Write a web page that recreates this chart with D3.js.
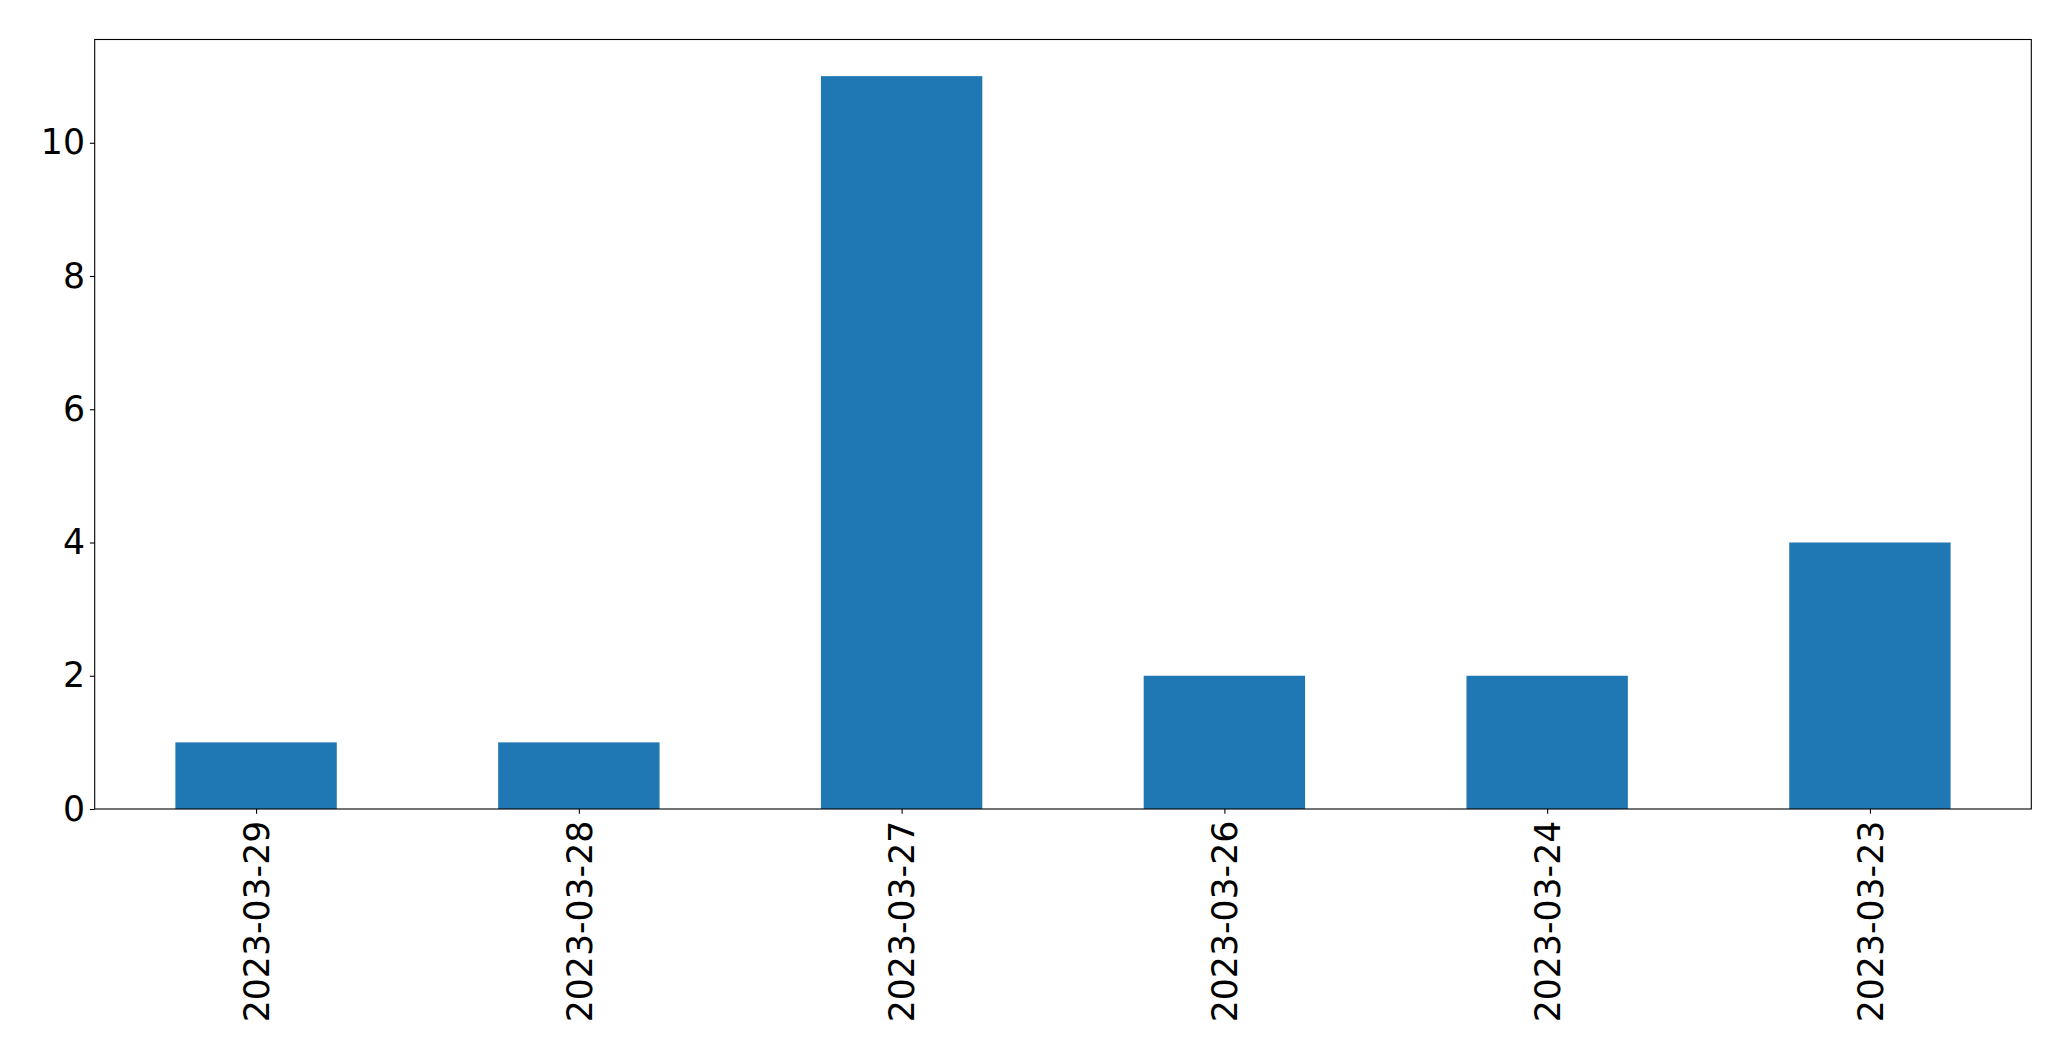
<!DOCTYPE html>
<html>
<head>
<meta charset="utf-8">
<script src="https://cdn.jsdelivr.net/npm/d3@7"></script>
<style>
  html, body { margin: 0; padding: 0; background: #fff; }
  svg { display: block; }
</style>
</head>
<body>
<script>
const categories = ["2023-03-29", "2023-03-28", "2023-03-27", "2023-03-26", "2023-03-24", "2023-03-23"];
const values = [1, 1, 11, 2, 2, 4];
const yTicks = [0, 2, 4, 6, 8, 10];

const W = 2071, H = 1061;
const mLeft = 94.7, mRight = 2031.3, mTop = 39.5, mBottom = 809;
const fontSize = 34.7;
const tickLen = 4.86;
const pad = 4.86;

const svg = d3.select("body").append("svg").attr("width", W).attr("height", H)
  .style("font-family", "'DejaVu Sans', sans-serif");

const x = d3.scaleLinear().domain([-0.5, categories.length - 0.5]).range([mLeft, mRight]);
const yMax = d3.max(values) * 1.05;
const y = d3.scaleLinear().domain([0, yMax]).range([mBottom, mTop]);

// bars
svg.append("g").selectAll("rect").data(values).join("rect")
  .attr("x", (d, i) => x(i - 0.25))
  .attr("width", (d, i) => x(i + 0.25) - x(i - 0.25))
  .attr("y", d => y(d))
  .attr("height", d => y(0) - y(d))
  .attr("fill", "#1f77b4");

// y axis
const yAxis = d3.axisLeft(y).tickValues(yTicks).tickSize(tickLen).tickPadding(pad).tickFormat(d3.format("d"));
const gy = svg.append("g").attr("transform", `translate(${mLeft},0)`).call(yAxis);
gy.select(".domain").remove();
gy.selectAll(".tick line").attr("stroke", "#000").attr("stroke-width", 1.1);
gy.selectAll(".tick text").attr("font-size", fontSize).attr("fill", "#000")
  .attr("font-family", "'DejaVu Sans', sans-serif");

// x axis
const xAxis = d3.axisBottom(x).tickValues(d3.range(categories.length)).tickSize(tickLen).tickPadding(pad)
  .tickFormat(i => categories[i]);
const gx = svg.append("g").attr("transform", `translate(0,${mBottom})`).call(xAxis);
gx.select(".domain").remove();
gx.selectAll(".tick line").attr("stroke", "#000").attr("stroke-width", 1.1);
gx.selectAll(".tick text")
  .attr("font-size", fontSize).attr("fill", "#000")
  .attr("font-family", "'DejaVu Sans', sans-serif")
  .attr("text-anchor", "end")
  .attr("dy", "0.35em")
  .attr("y", 0)
  .attr("transform", `translate(0,${tickLen + pad + 2}) rotate(-90)`);

// frame
svg.append("rect")
  .attr("x", mLeft).attr("y", mTop)
  .attr("width", mRight - mLeft).attr("height", mBottom - mTop)
  .attr("fill", "none").attr("stroke", "#000").attr("stroke-width", 1.1);
</script>
</body>
</html>
